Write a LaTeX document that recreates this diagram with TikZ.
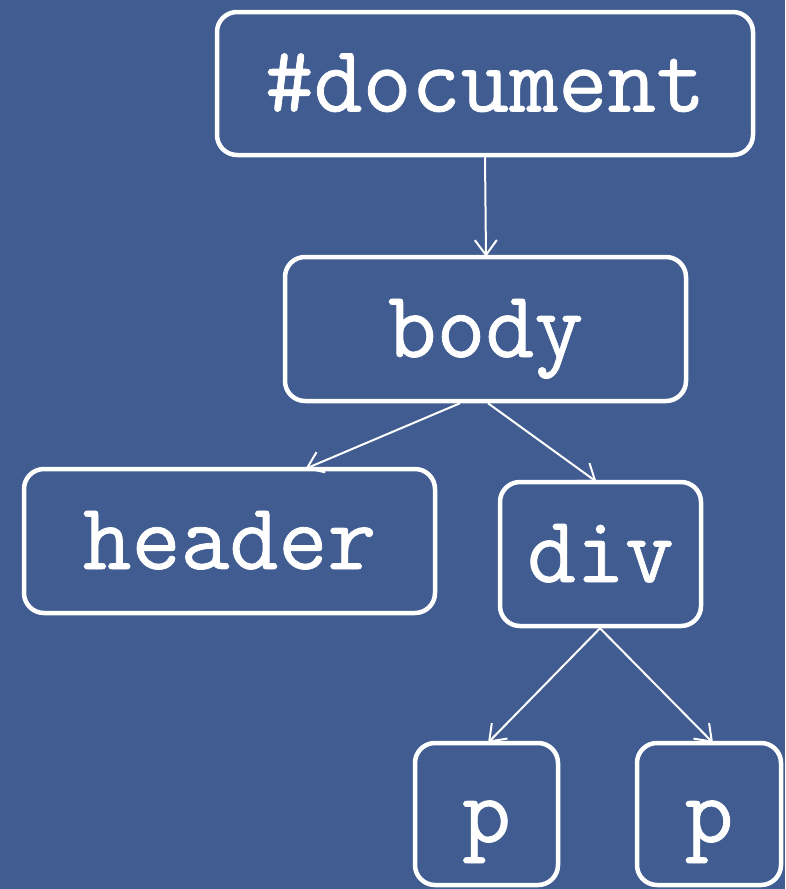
\documentclass[tikz,border=0pt]{standalone}
\usepackage{fontspec}
\usetikzlibrary{arrows.meta}
\newfontfamily\treefont[FakeBold=0.8]{Latin Modern Mono}
\definecolor{panelblue}{RGB}{64,92,145}
\begin{document}
\begin{tikzpicture}[x=1pt,y=-1pt,
  treebox/.style={draw=white, line width=4.5pt, rounded corners=20pt,
    inner sep=0pt, text=white, text height=70pt, text depth=14pt,
    font=\treefont\fontsize{95}{100}\selectfont},
  link/.style={draw=white, line width=2pt,
    -{Straight Barb[length=15pt,width=22pt,line width=2pt]}}]
  % page and background
  \fill[panelblue] (0,0) rectangle (785,889);
  \useasboundingbox (0,0) rectangle (785,889);

  % DOM tree nodes
  \node[treebox, minimum width=536pt, minimum height=143pt] (doc)    at (485,83.5)  {\#document};
  \node[treebox, minimum width=401pt, minimum height=144pt] (body)   at (485.5,329) {body};
  \node[treebox, minimum width=411pt, minimum height=144pt] (header) at (229.5,541) {header};
  \node[treebox, minimum width=201pt, minimum height=144pt] (div)    at (600.5,554) {div};
  \node[treebox, minimum width=143pt, minimum height=142pt] (p1)     at (486.5,814) {p};
  \node[treebox, minimum width=144pt, minimum height=142pt] (p2)     at (709,814)   {p};

  % parent -> child links
  \draw[link] (doc.south) -- ([xshift=0.5pt,yshift=-2pt]body.north);
  \draw[link] ([xshift=-25.5pt]body.south) -- ([xshift=76pt,yshift=-2pt]header.north);
  \draw[link] ([xshift=2.5pt]body.south) -- ([xshift=-4pt,yshift=-2pt]div.north);
  \draw[link] ([xshift=-0.5pt]div.south) -- ([xshift=1.5pt,yshift=-2pt]p1.north);
  \draw[link] ([xshift=-0.5pt]div.south) -- ([xshift=4pt,yshift=-2pt]p2.north);
\end{tikzpicture}
\end{document}
